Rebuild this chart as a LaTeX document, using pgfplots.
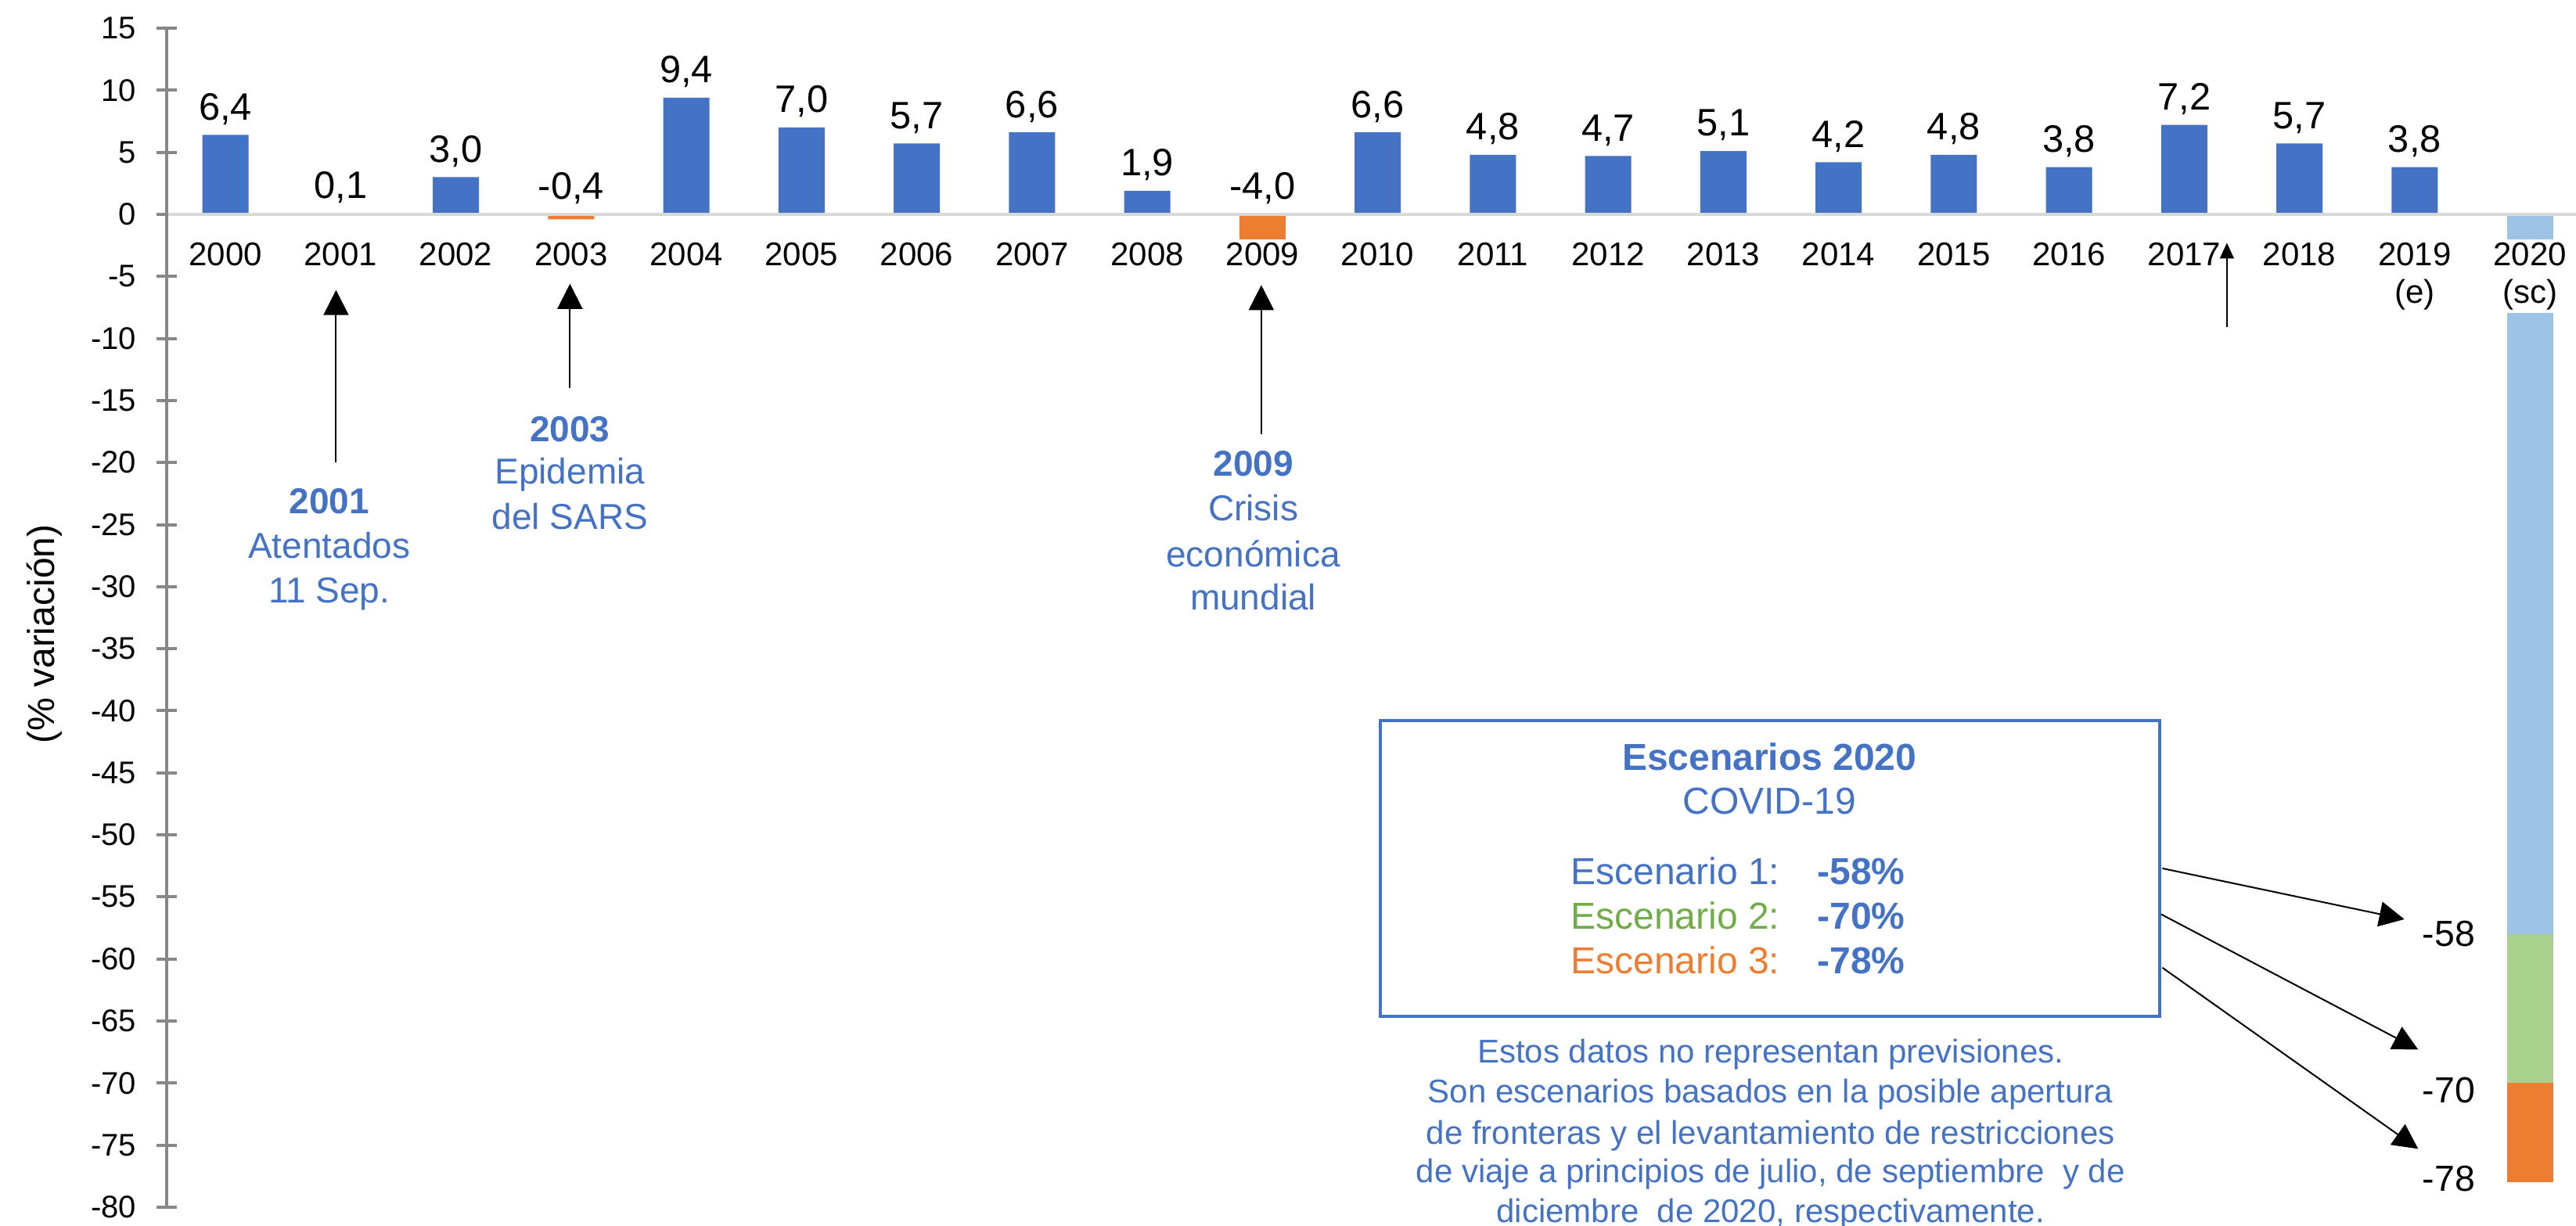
\documentclass[border=0pt]{standalone}
\usepackage{fontspec}
\setmainfont{Liberation Sans}
\usepackage{pgfplots}
\pgfplotsset{compat=1.18}
\usetikzlibrary{arrows.meta}

\definecolor{barBlue}{HTML}{4472C4}
\definecolor{barOrange}{HTML}{ED7D31}
\definecolor{barLight}{HTML}{9DC3E6}
\definecolor{barGreen}{HTML}{A9D18E}
\definecolor{txtGreen}{HTML}{70AD47}
\definecolor{axisGray}{HTML}{878787}
\definecolor{zeroGray}{HTML}{D9D9D9}

\newcommand{\fs}[2]{\fontsize{#1}{#2}\selectfont}

\tikzset{
  ann/.style={text=barBlue, font=\fs{11.5}{14}, anchor=base},
  annb/.style={text=barBlue, font=\fs{11.5}{14}\bfseries, anchor=base},
  box/.style={font=\fs{12}{14}, anchor=base west},
  note/.style={text=barBlue, font=\fs{10.5}{12}, anchor=base},
  arr/.style={-{Triangle[length=8pt,width=8pt]}, line width=0.5pt, black},
}

\begin{document}
\begin{tikzpicture}
\begin{axis}[
  x=36.8125pt, y=3.9658pt,
  xmin=-0.51, xmax=20.40, ymin=-80, ymax=15,
  axis y line=left, axis x line=middle,
  y axis line style={-, draw=axisGray, line width=0.85pt},
  x axis line style={-, draw=zeroGray, line width=1.2pt},
  ytick={-80,-75,...,15},
  xtick={0,...,20},
  xticklabels={2000,2001,2002,2003,2004,2005,2006,2007,2008,2009,2010,2011,2012,2013,2014,2015,2016,2017,2018,{2019\\(e)},{2020\\(sc)}},
  xtick style={draw=none},
  ytick style={draw=axisGray, line width=1pt},
  major tick length=6.5pt, tick align=center,
  /pgf/number format/assume math mode=true,
  yticklabel style={font=\fs{10}{12}, xshift=-3pt},
  xticklabel style={font=\fs{10.5}{12}, align=center, fill=white, inner xsep=2pt, inner ysep=1pt, anchor=north, yshift=-4.6pt},
  ylabel={(\% variación)},
  every axis y label/.style={at={(axis description cs:0,0.486)}, xshift=-39pt, anchor=center, rotate=90, font=\fs{12}{14}},
  axis on top, clip=false,
  mybar/.style={ybar, bar width=0.4, bar shift=0pt, draw=none},
  after end axis/.code={
    % event arrows
    \draw[arr] (axis cs:0.96,-20) -- (axis cs:0.96,-6.1);
    \draw[arr] (axis cs:2.99,-14) -- (axis cs:2.99,-5.6);
    \draw[arr] (axis cs:8.99,-17.7) -- (axis cs:8.99,-5.7);
    \draw[-{Triangle[length=5pt,width=4.5pt]}, line width=0.4pt] (axis cs:17.37,-9.1) -- (axis cs:17.37,-2.3);
    % event texts
    \node[annb] at (axis cs:0.90,-24.1) {2001};
    \node[ann] at (axis cs:0.90,-27.7) {Atentados};
    \node[ann] at (axis cs:0.90,-31.3) {11 Sep.};
    \node[annb] at (axis cs:2.99,-18.3) {2003};
    \node[ann] at (axis cs:2.99,-21.7) {Epidemia};
    \node[ann] at (axis cs:2.99,-25.4) {del SARS};
    \node[annb] at (axis cs:8.92,-21.1) {2009};
    \node[ann] at (axis cs:8.92,-24.7) {Crisis};
    \node[ann] at (axis cs:8.92,-28.4) {económica};
    \node[ann] at (axis cs:8.92,-31.9) {mundial};
    % scenario box
    \draw[barBlue, line width=1pt] (axis cs:10.02,-40.8) rectangle (axis cs:16.79,-64.6);
    \node[anchor=base, text=barBlue, font=\fs{12}{14}\bfseries] at (axis cs:13.4,-44.8) {Escenarios 2020};
    \node[anchor=base, text=barBlue, font=\fs{12}{14}] at (axis cs:13.4,-48.3) {COVID-19};
    \node[box, text=barBlue] at (axis cs:11.58,-54.0) {Escenario 1:};
    \node[box, text=txtGreen] at (axis cs:11.58,-57.6) {Escenario 2:};
    \node[box, text=barOrange] at (axis cs:11.58,-61.2) {Escenario 3:};
    \node[box, text=barBlue, font=\fs{12}{14}\bfseries] at (axis cs:13.72,-54.0) {-58\%};
    \node[box, text=barBlue, font=\fs{12}{14}\bfseries] at (axis cs:13.72,-57.6) {-70\%};
    \node[box, text=barBlue, font=\fs{12}{14}\bfseries] at (axis cs:13.72,-61.2) {-78\%};
    % note under the box
    \node[note] at (axis cs:13.41,-68.4) {Estos datos no representan previsiones.};
    \node[note] at (axis cs:13.41,-71.6) {Son escenarios basados en la posible apertura};
    \node[note] at (axis cs:13.41,-74.9) {de fronteras y el levantamiento de restricciones};
    \node[note] at (axis cs:13.41,-78.0) {de viaje a principios de julio, de septiembre\ \ y de};
    \node[note] at (axis cs:13.41,-81.2) {diciembre\ \ de 2020, respectivamente.};
    % arrows to the scenario values
    \draw[arr] (axis cs:16.81,-52.7) -- (axis cs:18.91,-56.8);
    \draw[arr] (axis cs:16.80,-56.4) -- (axis cs:19.03,-67.3);
    \draw[arr] (axis cs:16.81,-60.7) -- (axis cs:19.03,-75.3);
    \node[anchor=base east, font=\fs{11.6}{14}] at (axis cs:19.62,-58.95) {-58};
    \node[anchor=base east, font=\fs{11.6}{14}] at (axis cs:19.62,-71.6) {-70};
    \node[anchor=base east, font=\fs{11.6}{14}] at (axis cs:19.62,-78.7) {-78};
    \coordinate (BL) at (axis cs:-0.51,-80);
    \coordinate (TR) at (axis cs:20.40,15);
  },
]

% annual variation
\addplot[mybar, fill=barBlue] coordinates {
  (0,6.4) (1,0.1) (2,3.0) (4,9.4) (5,7.0) (6,5.7) (7,6.6) (8,1.9)
  (10,6.6) (11,4.8) (12,4.7) (13,5.1) (14,4.2) (15,4.8) (16,3.8)
  (17,7.2) (18,5.7) (19,3.8)
};
\addplot[mybar, fill=barOrange] coordinates {(3,-0.4) (9,-4.0)};

% 2020 scenarios
\addplot[mybar, fill=barOrange] coordinates {(20,-78)};
\addplot[mybar, fill=barGreen] coordinates {(20,-70)};
\addplot[mybar, fill=barLight] coordinates {(20,-58)};

% value labels
\addplot[draw=none, mark=none, nodes near coords, point meta=explicit symbolic,
  every node near coord/.append style={anchor=base, yshift=4.8pt, text=black, font=\fs{12.2}{14}}]
  table[meta=lab] {
x y lab
0 6.4 6,4
1 0.1 0,1
2 3.0 3,0
3 0 -0,4
4 9.4 9,4
5 7.0 7,0
6 5.7 5,7
7 6.6 6,6
8 1.9 1,9
9 0 -4,0
10 6.6 6,6
11 4.8 4,8
12 4.7 4,7
13 5.1 5,1
14 4.2 4,2
15 4.8 4,8
16 3.8 3,8
17 7.2 7,2
18 5.7 5,7
19 3.8 3,8
};
\end{axis}
\path (BL) ++(-53.25pt,-6pt) coordinate (A);
\path (TR) ++(0pt,9pt) coordinate (B);
\pgfresetboundingbox
\path[use as bounding box] (A) rectangle (B);
\end{tikzpicture}
\end{document}
